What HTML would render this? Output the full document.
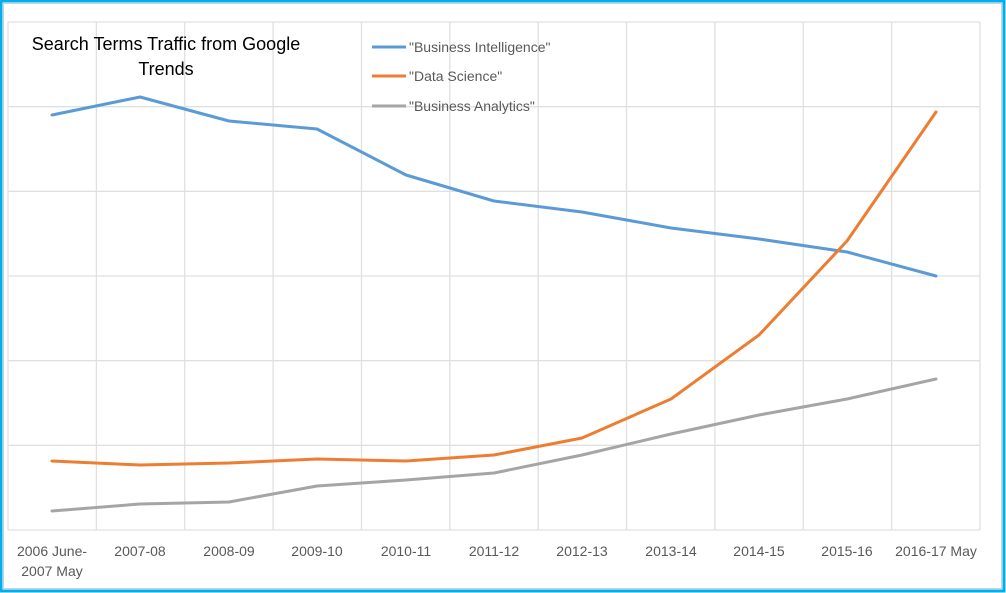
<!DOCTYPE html>
<html><head><meta charset="utf-8"><style>
body{margin:0;background:#fff}
svg{display:block;font-family:"Liberation Sans",sans-serif}
</style></head><body>
<svg width="1006" height="593" viewBox="0 0 1006 593">
<rect x="0" y="0" width="1006" height="593" fill="#fff"/>
<rect x="1" y="1" width="1003" height="590" fill="none" stroke="#00aeef" stroke-width="3"/>
<rect x="3.5" y="3.5" width="998" height="585" fill="none" stroke="#d0d0d0" stroke-width="1"/>
<g stroke="#e0e0e0" stroke-width="1.3">
<line x1="8" y1="22" x2="980" y2="22"/>
<line x1="8" y1="106.7" x2="980" y2="106.7"/>
<line x1="8" y1="191.3" x2="980" y2="191.3"/>
<line x1="8" y1="276" x2="980" y2="276"/>
<line x1="8" y1="360.7" x2="980" y2="360.7"/>
<line x1="8" y1="445.3" x2="980" y2="445.3"/>
<line x1="8" y1="530" x2="980" y2="530"/>
<line x1="8" y1="22" x2="8" y2="530"/>
<line x1="96.4" y1="22" x2="96.4" y2="530"/>
<line x1="184.7" y1="22" x2="184.7" y2="530"/>
<line x1="273.1" y1="22" x2="273.1" y2="530"/>
<line x1="361.5" y1="22" x2="361.5" y2="530"/>
<line x1="449.8" y1="22" x2="449.8" y2="530"/>
<line x1="538.2" y1="22" x2="538.2" y2="530"/>
<line x1="626.5" y1="22" x2="626.5" y2="530"/>
<line x1="714.9" y1="22" x2="714.9" y2="530"/>
<line x1="803.3" y1="22" x2="803.3" y2="530"/>
<line x1="891.6" y1="22" x2="891.6" y2="530"/>
<line x1="980" y1="22" x2="980" y2="530"/>
</g>
<g fill="none" stroke-width="3" stroke-linejoin="round" stroke-linecap="round">
<polyline stroke="#5b9bd5" points="52,115 140,97 229,121 317,129 406,175 494,201 582,212 671,228 759,239 847,252 936,276"/>
<polyline stroke="#ed7d31" points="52,461 140,465 229,463 317,459 406,461 494,455 582,438 671,399 759,335 847,241 936,112"/>
<polyline stroke="#a5a5a5" points="52,511 140,504 229,502 317,486 406,480 494,473 582,455 671,434 759,415 847,399 936,379"/>
</g>
<g font-size="18" fill="#000" text-anchor="middle">
<text x="166" y="50">Search Terms Traffic from Google</text>
<text x="166" y="75">Trends</text>
</g>
<g font-size="14" fill="#595959">
<line x1="372" y1="47" x2="406" y2="47" stroke="#5b9bd5" stroke-width="3"/>
<text x="409" y="52">"Business Intelligence"</text>
<line x1="372" y1="76" x2="406" y2="76" stroke="#ed7d31" stroke-width="3"/>
<text x="409" y="81">"Data Science"</text>
<line x1="372" y1="106" x2="406" y2="106" stroke="#a5a5a5" stroke-width="3"/>
<text x="409" y="111">"Business Analytics"</text>
</g>
<g font-size="14" fill="#595959" text-anchor="middle">
<text x="52" y="556">2006 June-</text>
<text x="52" y="576">2007 May</text>
<text x="140" y="556">2007-08</text>
<text x="229" y="556">2008-09</text>
<text x="317" y="556">2009-10</text>
<text x="406" y="556">2010-11</text>
<text x="494" y="556">2011-12</text>
<text x="582" y="556">2012-13</text>
<text x="671" y="556">2013-14</text>
<text x="759" y="556">2014-15</text>
<text x="847" y="556">2015-16</text>
<text x="936" y="556">2016-17 May</text>
</g>
</svg>
</body></html>
